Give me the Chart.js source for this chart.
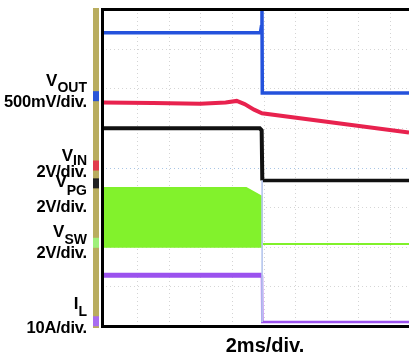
<!DOCTYPE html>
<html>
<head>
<meta charset="utf-8">
<script src="https://cdn.jsdelivr.net/npm/chart.js@4/dist/chart.umd.min.js"></script>
<style>
  html,body{margin:0;padding:0;background:#fff;}
  #wrap{position:relative;width:409px;height:356px;overflow:hidden;}
  canvas{position:absolute;left:0;top:0;}
  .lab{position:absolute;right:322px;white-space:nowrap;font-family:"Liberation Sans",Arial,sans-serif;font-weight:bold;color:#000;line-height:20px;text-align:right;}
  .big{font-size:17px;}
  .unit{font-size:16.5px;letter-spacing:-0.2px;}
  .lab sub{font-size:14px;vertical-align:0;position:relative;}
  #xt{position:absolute;left:205px;width:120px;text-align:center;top:335px;font-family:"Liberation Sans",Arial,sans-serif;font-weight:bold;font-size:20px;line-height:20px;color:#000;}
</style>
</head>
<body>
<div id="wrap">
<canvas id="c" width="409" height="356"></canvas>
<div class="lab big" style="top:71px">V<sub style="top:6px">OUT</sub></div>
<div class="lab unit" style="top:91px">500mV/div.</div>
<div class="lab big" style="top:146px">V<sub style="top:4px">IN</sub></div>
<div class="lab unit" style="top:161px">2V/div.</div>
<div class="lab big" style="top:172px">V<sub style="top:8px">PG</sub></div>
<div class="lab unit" style="top:196px">2V/div.</div>
<div class="lab big" style="top:222px">V<sub style="top:7px">SW</sub></div>
<div class="lab unit" style="top:242px">2V/div.</div>
<div class="lab big" style="top:294px">I<sub style="top:7px">L</sub></div>
<div class="lab unit" style="top:317px">10A/div.</div>
<div id="xt">2ms/div.</div>
</div>
<script>
// x in horizontal divisions (2 ms/div), y in vertical screen divisions (0 = bottom, 8 = top)
const xRange = [-0.11, 9.6];
const yRange = [0, 8];
const gridX = [1, 2, 3, 4, 5, 6, 7, 8, 9];
const gridY = [1, 2, 3, 4, 5, 6, 7];

const voutX = [-0.11, 4.9, 4.93, 4.95, 4.96, 9.6];
const voutY = [7.40, 7.40, 7.55, 7.98, 5.88, 5.88];

const vinX = [-0.11, 1.5, 3.0, 3.8, 4.15, 4.4, 4.7, 4.95, 9.6];
const vinY = [5.64, 5.63, 5.61, 5.64, 5.68, 5.60, 5.46, 5.37, 4.88];

const vpgX = [-0.11, 4.88, 4.94, 4.96, 9.6];
const vpgY = [4.99, 4.99, 4.94, 3.67, 3.67];

const vswX = [-0.11, 4.45, 4.95, 4.951, 9.6];
const vswTop = [3.48, 3.48, 3.26, 2.07, 2.07];
const vswBottom = [2.0, 2.0, 2.0, 2.07, 2.07];

const ilX = [-0.11, 4.95, 4.96, 9.6];
const ilY = [1.28, 1.28, 0.10, 0.10];

const edgeX = [4.955, 4.955];
const edgeY = [3.67, 0.10];

const STEP = 4.95;
function pts(xs, ys){ return xs.map((x,i)=>({x:x, y:ys[i]})); }
function widthSeg(before, after){ return ctx => (ctx.p0.parsed.x >= STEP ? after : before); }

const frame = {
  id:'frame',
  beforeDatasetsDraw(chart){
    const {ctx, chartArea:a, scales:{x, y}} = chart;
    ctx.save();
    ctx.lineWidth = 1;
    ctx.setLineDash([1,3]);
    gridX.forEach(v=>{
      const px = Math.round(x.getPixelForValue(v))+0.5;
      ctx.strokeStyle = '#d4d4d4';
      ctx.beginPath(); ctx.moveTo(px, a.top); ctx.lineTo(px, a.bottom); ctx.stroke();
    });
    gridY.forEach(v=>{
      const py = Math.round(y.getPixelForValue(v))+0.5;
      ctx.strokeStyle = v===4 ? '#a9c6e6' : '#d6d6d6';
      ctx.beginPath(); ctx.moveTo(a.left, py); ctx.lineTo(a.right, py); ctx.stroke();
    });
    ctx.restore();
  },
  afterDraw(chart){
    const {ctx, chartArea:a, scales:{y}} = chart;
    ctx.save();
    ctx.fillStyle = '#000';
    ctx.fillRect(a.left-1, a.top-1, 3, a.bottom-a.top+3);
    ctx.fillRect(a.left-1, a.top-1, a.right-a.left+2, 3);
    ctx.fillRect(a.left-1, a.bottom-1, a.right-a.left+2, 3);
    ctx.fillStyle = '#b9ad5f';
    ctx.fillRect(93, a.top-1, 6, a.bottom-a.top+3);
    const marks = [[voutY[voutY.length-1]-0.08, '#2a55d8'], [4.05, '#e23a4c'], [3.6, '#222222'], [2.1, '#9ff07a'], [0.12, '#a86cf0']];
    marks.forEach(([v,c])=>{
      const py = y.getPixelForValue(v);
      ctx.fillStyle = c;
      ctx.fillRect(93, py-5, 6, 10);
    });
    ctx.restore();
  }
};

new Chart(document.getElementById('c'), {
  type:'line',
  data:{
    datasets:[
      {label:'edge', data:pts(edgeX, edgeY), borderColor:'#b8c8ee', borderWidth:1, fill:false, pointRadius:0, tension:0},
      {label:'VSW top', data:pts(vswX, vswTop), borderColor:'#80f12a', backgroundColor:'#82f22c', borderWidth:2, fill:'+1', pointRadius:0, tension:0},
      {label:'VSW bottom', data:pts(vswX, vswBottom), borderColor:'#80f12a', borderWidth:2, fill:false, pointRadius:0, tension:0},
      {label:'IL', data:pts(ilX, ilY), borderColor:'#9b52ee', borderWidth:4, segment:{borderWidth:widthSeg(5,2.5)}, fill:false, pointRadius:0, tension:0},
      {label:'VPG', data:pts(vpgX, vpgY), borderColor:'#111111', borderWidth:3.5, segment:{borderWidth:widthSeg(4,3.5)}, fill:false, pointRadius:0, tension:0},
      {label:'VIN', data:pts(vinX, vinY), borderColor:'#e8224e', borderWidth:4, fill:false, pointRadius:0, tension:0},
      {label:'VOUT', data:pts(voutX, voutY), borderColor:'#2452dc', borderWidth:3.5, fill:false, pointRadius:0, tension:0}
    ]
  },
  options:{
    responsive:false,
    animation:false,
    devicePixelRatio:1,
    layout:{padding:{left:102, top:9, right:0, bottom:30}},
    plugins:{legend:{display:false}, tooltip:{enabled:false}},
    scales:{
      x:{type:'linear', min:xRange[0], max:xRange[1], display:false},
      y:{type:'linear', min:yRange[0], max:yRange[1], display:false}
    }
  },
  plugins:[frame]
});
</script>
</body>
</html>
